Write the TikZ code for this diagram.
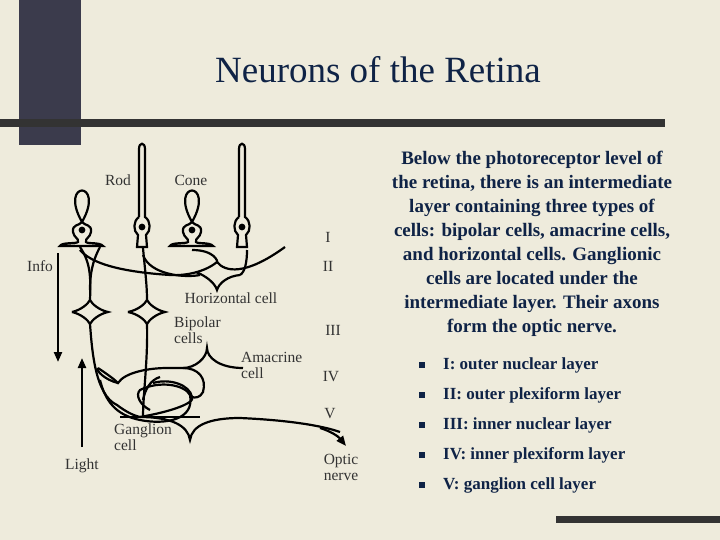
\documentclass[tikz,border=0pt]{standalone}
\usepackage{fontspec}
\setmainfont{Liberation Serif}
\usetikzlibrary{arrows.meta}
\definecolor{bg}{HTML}{EEEBDC}
\definecolor{navy}{HTML}{0F2346}
\definecolor{blockc}{HTML}{3B3B4C}
\definecolor{barc}{HTML}{333333}
\definecolor{lab}{HTML}{333333}
\tikzset{
  cell/.style={line width=2.2pt,black},
  lbl/.style={font=\fontsize{15.5}{16}\selectfont,text=lab,inner sep=0pt},
  rtext/.style={font=\bfseries\fontsize{17}{24}\selectfont,text=navy,inner sep=0pt},
  ptext/.style={font=\bfseries\fontsize{19}{24}\selectfont,text=navy,inner sep=0pt},
  pics/cone/.style={code={
    \draw[cell] (0,-8) .. controls (-24,-50) and (24,-50) .. (0,-8);
    \draw[cell] (0,-8) .. controls (-3,-4) and (-10,-6) .. (-9,2) .. controls (-8,8) and (-3,8) .. (-4,12)
      .. controls (-6,14) and (-20,12) .. (-22,16) -- (21,16) .. controls (18,12) and (5,14) .. (4,12)
      .. controls (3,8) and (8,8) .. (9,2) .. controls (10,-6) and (3,-4) .. (0,-8);
    \fill (0,0) circle (3.4);}},
  pics/rod/.style={code={
    \draw[cell] (-3,-10) -- (-3,-78) .. controls (-3,-85) and (3,-85) .. (3,-78) -- (3,-10)
      .. controls (9,-6) and (9,4) .. (4,8) -- (5,20) -- (-5,20) -- (-4,8) .. controls (-9,4) and (-9,-6) .. (-3,-10);
    \fill (0,0) circle (3.4);}}
}
\begin{document}
\begin{tikzpicture}[x=1pt,y=-1pt]
\useasboundingbox (0,0) rectangle (720,540);
\fill[bg] (0,0) rectangle (720,540);
\fill[blockc] (19,0) rectangle (81,145);
\fill[barc] (0,119) rectangle (665,127);
\fill[barc] (556,516) rectangle (720,523);
\node[font=\fontsize{37}{40}\selectfont,text=navy] (title) at (378,70) {Neurons of the Retina};

% photoreceptors
\pic at (82,230) {cone};
\pic at (192,230) {cone};
\pic at (142,227) {rod};
\pic at (242,227) {rod};

% cone A to bipolar 1
\draw[cell] (80,247) .. controls (90,262) and (91,275) .. (90,300);
\draw[cell] (100,247) .. controls (92,262) and (90,275) .. (90,290);
% bipolar 1
\draw[cell] (72,312) .. controls (81,310) and (88,304) .. (90,300) .. controls (92,304) and (99,310) .. (108,312)
  .. controls (99,314) and (92,320) .. (90,324) .. controls (88,320) and (81,314) .. (72,312);
% rod 1 to bipolar 2
\draw[cell] (143,248) .. controls (145,270) and (147,285) .. (147,300);
\draw[cell] (128,312) .. controls (138,310) and (145,304) .. (147,300) .. controls (149,304) and (156,310) .. (165,312)
  .. controls (156,314) and (149,320) .. (147,324) .. controls (145,320) and (138,314) .. (128,312);

% horizontal cell
\draw[cell] (80,250) .. controls (95,268) and (140,273) .. (170,275) .. controls (185,276) and (205,272) .. (217,262)
  .. controls (225,272) and (245,276) .. (285,247);
\draw[cell] (143,255) .. controls (150,275) and (185,278) .. (200,275);
\draw[cell] (192,250) .. controls (215,250) and (218,262) .. (217,262);
\draw[cell] (196,272) .. controls (206,276) and (215,283) .. (217,290) .. controls (219,283) and (228,276) .. (240,275);
\draw[cell] (247,250) .. controls (247,262) and (245,272) .. (240,275);

% bipolar 1 down to ganglion
\draw[cell] (90,324) .. controls (92,350) and (95,395) .. (117,405) .. controls (125,411) and (132,415) .. (140,417);
\draw[cell] (120,417) -- (200,417);
% bipolar 2 down
\draw[cell] (147,324) .. controls (148,360) and (143,395) .. (143,417);
% ganglion star and optic nerve
\draw[cell] (140,417) .. controls (170,417) and (188,425) .. (190,440) .. controls (192,425) and (210,418) .. (240,418)
  .. controls (285,420) and (320,425) .. (340,432);
\draw[cell,-{Triangle[length=10pt,width=8pt]}] (320,428) .. controls (330,431) and (338,436) .. (346,446);
\draw[cell] (140,417) .. controls (180,410) and (200,400) .. (190,395);

% amacrine cell
\draw[cell] (98,368) .. controls (110,376) and (115,380) .. (118,383) .. controls (125,372) and (150,368) .. (167,368)
  -- (183,368) .. controls (195,368) and (207,358) .. (207,348) .. controls (207,358) and (220,368) .. (243,368);
\draw[cell] (118,383) .. controls (105,380) and (95,370) .. (98,368);
\draw[cell] (183,368) .. controls (198,368) and (207,378) .. (203,392) .. controls (200,398) and (195,398) .. (192,397);
\draw[cell] (153,383) .. controls (170,378) and (190,385) .. (192,397);
\draw[cell] (100,380) .. controls (105,400) and (115,415) .. (140,420) .. controls (165,425) and (195,420) .. (190,395)
  .. controls (185,385) and (160,380) .. (140,390) .. controls (135,395) and (140,405) .. (150,410);
\draw[cell] (143,400) .. controls (145,390) and (150,380) .. (160,377);

% arrows
\draw[cell,-{Triangle[length=10pt,width=8pt]}] (58,253) -- (58,362);
\draw[cell,-{Triangle[length=10pt,width=8pt]}] (82,447) -- (82,358);

% labels
\node[lbl] (rod) at (118,180) {Rod};
\node[lbl] (cone) at (191,180) {Cone};
\node[lbl] (info) at (40,266) {Info};
\node[lbl] (l1) at (328,237) {I};
\node[lbl] (l2) at (328,266) {II};
\node[lbl] (hor) at (231,298) {Horizontal cell};
\node[lbl,align=left,anchor=west] (bip) at (174,330) {Bipolar\\cells};
\node[lbl] (l3) at (333,330) {III};
\node[lbl,align=left,anchor=west] (ama) at (241,365) {Amacrine\\cell};
\node[lbl] (l4) at (331,377) {IV};
\node[lbl] (l5) at (330,414) {V};
\node[lbl,align=left,anchor=west] (gan) at (114,437) {Ganglion\\cell};
\node[lbl] (light) at (82,466) {Light};
\node[lbl,align=center] (optic) at (341,467) {Optic\\nerve};

% right text
\node[ptext,align=center] (para) at (532,244) {Below the photoreceptor level of\\the retina, there is an intermediate\\layer containing three types of\\cells: bipolar cells, amacrine cells,\\and horizontal cells. Ganglionic\\cells are located under the\\intermediate layer. Their axons\\form the optic nerve.};
\foreach \t [count=\i] in {I: outer nuclear layer,II: outer plexiform layer,III: inner nuclear layer,IV: inner plexiform layer,V: ganglion cell layer}{
  \fill[navy] (418.5,{365+30*(\i-1)-3}) rectangle +(6,6);
  \node[rtext,anchor=west] (b\i) at (443,{365+30*(\i-1)}) {\t};
}
\end{tikzpicture}
\end{document}
